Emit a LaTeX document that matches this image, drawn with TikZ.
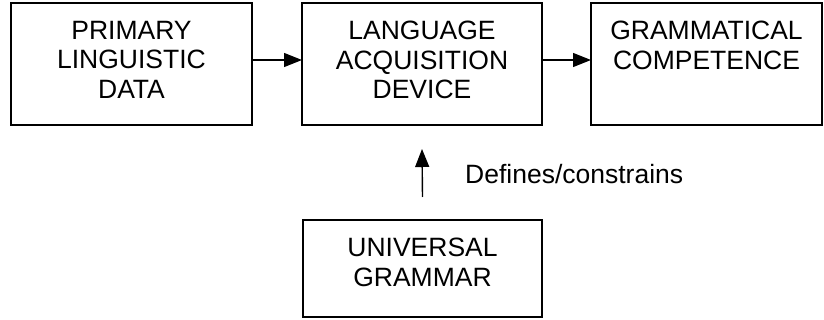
\documentclass[tikz,border=0pt]{standalone}
\usepackage{fontspec}
\setmainfont{Liberation Sans}
\usetikzlibrary{arrows.meta}
\begin{document}
\begin{tikzpicture}[x=1pt,y=-1pt,
  box/.style={draw=black, line width=1.6pt, rectangle, inner sep=0pt, outer sep=0pt},
  boxtext/.style={anchor=north, align=center, inner sep=0pt, font=\fontsize{26.5}{29.5}\selectfont},
  lbl/.style={anchor=west, inner sep=0pt, font=\fontsize{26.5}{29.5}\selectfont},
  arr/.style={line width=1.4pt, -{Triangle[length=18pt,width=14pt]}}]
\useasboundingbox (0,0) rectangle (824,320);
\node[box, minimum width=241pt, minimum height=122pt] (b1) at (131.5,64) {};
\node[box, minimum width=240pt, minimum height=122pt] (b2) at (422,64) {};
\node[box, minimum width=231pt, minimum height=122pt] (b3) at (706.5,64) {};
\node[box, minimum width=239pt, minimum height=97pt] (b4) at (422.5,268.5) {};
\node[boxtext] (t1) at ([yshift=-18pt]b1.north) {PRIMARY\\LINGUISTIC\\DATA};
\node[boxtext] (t2) at ([yshift=-18pt]b2.north) {LANGUAGE\\ACQUISITION\\DEVICE};
\node[boxtext] (t3) at ([yshift=-18pt]b3.north) {GRAMMATICAL\\COMPETENCE};
\node[boxtext] (t4) at ([yshift=-18pt]b4.north) {UNIVERSAL\\GRAMMAR};
\draw[arr] ([yshift=4pt]b1.east) -- ([yshift=4pt]b2.west);
\draw[arr] ([yshift=4pt]b2.east) -- ([yshift=4pt]b3.west);
\coordinate (ua) at ([yshift=23pt]b4.north);
\coordinate (ub) at ([yshift=-24pt]b2.south);
\draw[arr] (ua) -- (ub);
\node[lbl] (l1) at (465,174) {Defines/constrains};
\end{tikzpicture}
\end{document}
